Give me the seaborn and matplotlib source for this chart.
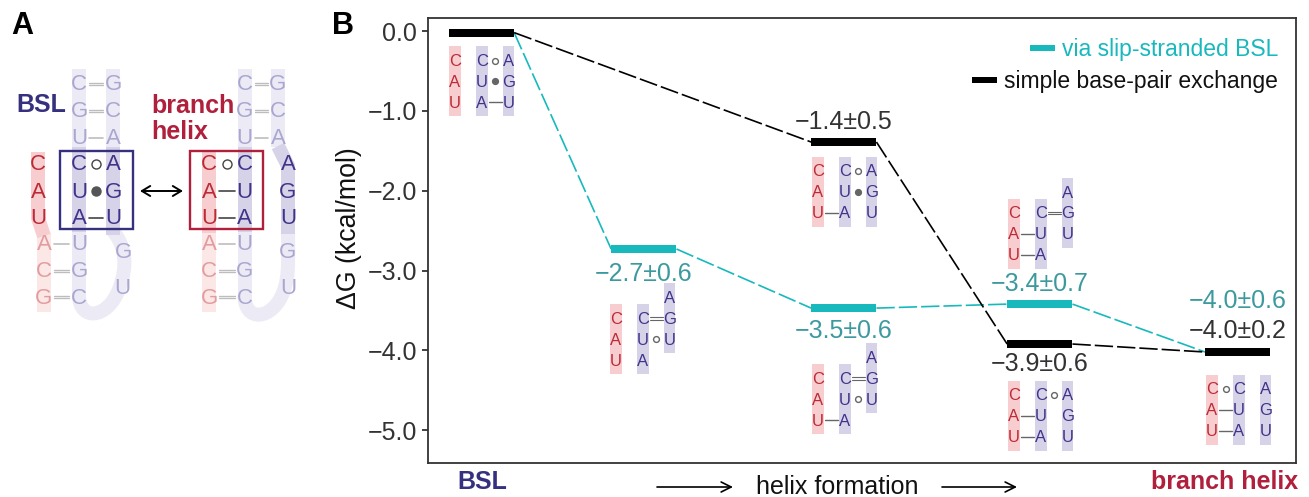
from matplotlib import pyplot as plt
from matplotlib.lines import Line2D
from matplotlib.patches import PathPatch, Rectangle
from matplotlib.path import Path
import pandas as pd
import seaborn as sns

sns.set_theme(style='ticks')
plt.rcParams['font.family'] = ['Liberation Sans', 'DejaVu Sans']

# Free energy of each stage along helix formation
stages = [0.0, 0.82, 1.83, 2.82, 3.82]
slip_stages = [0, 1, 2, 3, 4]
slip_dG = [-0.02, -2.73, -3.47, -3.42, -4.02]
exchange_stages = [0, 2, 3, 4]
exchange_dG = [-0.02, -1.39, -3.92, -4.02]
yticks = [0.0, -1.0, -2.0, -3.0, -4.0, -5.0]
slip_labels = ['-2.7±0.6', '-3.5±0.6', '-3.4±0.7', '-4.0±0.6']
exchange_labels = ['-1.4±0.5', '-3.9±0.6', '-4.0±0.2']
series_names = ['via slip-stranded BSL', 'simple base-pair exchange']

CYAN = '#17b9bd'
TEAL = '#3c9a9f'
DARK = '#333333'
NAVY = '#35317f'
CRIMSON = '#b01f3c'
RED_TXT = '#bb2b36'
BLUE_TXT = '#3f3489'
RED_BAND, RED_PALE = '#f8cdd0', '#fce7e7'
BLUE_BAND, BLUE_PALE = '#d6d3e8', '#ecebf5'
RED_FADE, BLUE_FADE = '#e29c9f', '#a9a6d0'
BAR_HW = 0.165
PX = 0.72  # points per pixel


# One dashed connector per pair of neighbouring levels
def connectors(ax, idx, dG, color):
  rows = []
  for n in range(len(idx) - 1):
    rows.append(dict(seg=n, x=stages[idx[n]] + BAR_HW, y=dG[n]))
    rows.append(dict(seg=n, x=stages[idx[n + 1]] - BAR_HW, y=dG[n + 1]))
  sns.lineplot(data=pd.DataFrame(rows), x='x', y='y', units='seg', estimator=None, color=color,
               lw=1.2, linestyle=(0, (11, 2.4)), ax=ax, zorder=2)


# Thick horizontal level for each stage
def levels(ax, idx, dG, color):
  rows = []
  for n, (i, g) in enumerate(zip(idx, dG)):
    rows.append(dict(seg=n, x=stages[i] - BAR_HW, y=g))
    rows.append(dict(seg=n, x=stages[i] + BAR_HW, y=g))
  sns.lineplot(data=pd.DataFrame(rows), x='x', y='y', units='seg', estimator=None, color=color,
               lw=8 * PX, solid_capstyle='butt', ax=ax, zorder=3)


def band(ax, x, y0, y1, color, w=11.5):
  ax.add_patch(Rectangle((x - w / 2, y0), w, y1 - y0, fc=color, ec='none', zorder=1))


def letters(ax, x, y0, seq, color, size, dy):
  for i, s in enumerate(seq):
    ax.text(x, y0 + i * dy + 1, s, color=color, fontsize=size, ha='center', va='center', zorder=4)


# Base pair glyph between two letters at height y
def pair(ax, x0, x1, y, kind, gap=7, color='#666666', lw=1.0, ms=5):
  mid = (x0 + x1) / 2
  if kind == '-':
    ax.plot([x0 + gap, x1 - gap], [y, y], color=color, lw=lw, zorder=3)
  elif kind == '=':
    for off in (-1.3, 1.3):
      ax.plot([x0 + gap, x1 - gap], [y + off, y + off], color=color, lw=lw * 0.8, zorder=3)
  elif kind == 'o':
    ax.plot([mid], [y], 'o', mfc='white', mec=color, mew=1, ms=ms, zorder=3)
  else:
    ax.plot([mid], [y], 'o', mfc=color, mec=color, ms=ms, zorder=3)


# Small helix sketch below a level: red strand, blue strand, shifted blue strand
def mini(ax, x, y0, shift, seq, pairs):
  cols = [x, x + 27, x + 53.5]
  tops = [y0, y0, y0 - shift]
  dy = 20.8
  for c, top, s, fill, txt in zip(cols, tops, seq, [RED_BAND, BLUE_BAND, BLUE_BAND],
                                  [RED_TXT, BLUE_TXT, BLUE_TXT]):
    band(ax, c, top - 14.5, top + 55.5, fill)
    letters(ax, c, top, s, txt, 12, dy)
  for a, b, row, kind in pairs:
    pair(ax, cols[a], cols[b], y0 + row * dy, kind, ms=4.2)


def stroke(ax, verts, codes, color, lw=14):
  ax.add_patch(PathPatch(Path(verts, codes), fc='none', ec=color, lw=lw * PX, capstyle='butt', zorder=1))


fig = plt.figure(figsize=(13.09, 4.97), dpi=100)
ax = fig.add_axes([428 / 1309, 1 - 463 / 497, 868 / 1309, 445 / 497])

connectors(ax, slip_stages, slip_dG, CYAN)
connectors(ax, exchange_stages, exchange_dG, 'black')
levels(ax, slip_stages[1:4], slip_dG[1:4], CYAN)
levels(ax, exchange_stages, exchange_dG, 'black')

ax.set_xlim(-0.27, 4.114)
ax.set_ylim(-5.41, 0.163)
ax.set_xticks([])
ax.set_yticks(yticks)
ax.set_yticklabels([f'{t:.1f}'.replace('-', '\u2212') for t in yticks], fontsize=18, color=DARK)
ax.tick_params(axis='y', length=4.3, width=1.3, color=DARK, pad=3.5)
for s in ax.spines.values():
  s.set_linewidth(1.3)
  s.set_color(DARK)
ax.set_xlabel('')
ax.set_ylabel('\u0394G (kcal/mol)', fontsize=19.3, color='#111111')
ax.yaxis.set_label_coords(-0.076, 0.528)

# Energy labels
slip_pos = [(0.82, 274), (1.83, 331), (2.82, 284), (3.82, 301)]
for (sx, py), lab in zip(slip_pos, slip_labels):
  ax.annotate(lab.replace('-', '\u2212'), (sx, 0), xycoords=('data', 'axes fraction'),
              xytext=(0, (463 - py) * PX), textcoords='offset points',
              ha='center', va='center', fontsize=18, color=TEAL)
exch_pos = [(1.83, 122), (2.82, 364), (3.82, 331)]
for (sx, py), lab in zip(exch_pos, exchange_labels):
  ax.annotate(lab.replace('-', '\u2212'), (sx, 0), xycoords=('data', 'axes fraction'),
              xytext=(0, (463 - py) * PX), textcoords='offset points',
              ha='center', va='center', fontsize=18, color=DARK)

# Legend, right aligned like the figure
handles = [Line2D([], [], color=CYAN, lw=6 * PX, solid_capstyle='butt'),
           Line2D([], [], color='black', lw=6 * PX, solid_capstyle='butt')]
leg = ax.legend(handles, series_names, loc='upper right', frameon=False, fontsize=16.5,
                labelcolor=[CYAN, '#111111'], handlelength=1.1, handletextpad=0.3,
                labelspacing=0.38, bbox_to_anchor=(0.9795, 0.955), borderaxespad=0, borderpad=0)
leg._legend_handle_box.get_children()[0].align = 'right'

# Overlay in picture pixels for the sketches and free labels
ov = fig.add_axes([0, 0, 1, 1], zorder=5)
ov.set_xlim(0, 1309)
ov.set_ylim(497, 0)
ov.axis('off')
ov.patch.set_alpha(0)

mini(ov, 455, 60.5, 0, ['CAU', 'CUA', 'AGU'], [(1, 2, 0, 'o'), (1, 2, 1, '.'), (1, 2, 2, '-')])
mini(ov, 616, 318.5, 20.8, ['CAU', 'CUA', 'AGU'], [(1, 2, 0, '='), (1, 2, 1, 'o')])
mini(ov, 818, 171, 0, ['CAU', 'CUA', 'AGU'], [(1, 2, 0, 'o'), (1, 2, 1, '.'), (0, 1, 2, '-')])
mini(ov, 818, 378.5, 20.8, ['CAU', 'CUA', 'AGU'], [(1, 2, 0, '='), (1, 2, 1, 'o'), (0, 1, 2, '-')])
mini(ov, 1014, 213, 20.8, ['CAU', 'CUA', 'AGU'], [(1, 2, 0, '='), (0, 1, 1, '-'), (0, 1, 2, '-')])
mini(ov, 1014, 395, 0, ['CAU', 'CUA', 'AGU'], [(1, 2, 0, 'o'), (0, 1, 1, '-'), (0, 1, 2, '-')])
mini(ov, 1212, 389, 0, ['CAU', 'CUA', 'AGU'], [(0, 1, 0, 'o'), (0, 1, 1, '-'), (0, 1, 2, '-')])

ov.text(11, 26, 'A', fontsize=22, fontweight='bold', color='black', va='center')
ov.text(332, 26, 'B', fontsize=22, fontweight='bold', color='black', va='center')
ov.text(482, 482, 'BSL', fontsize=18, fontweight='bold', color=NAVY, ha='center', va='center')
ov.text(1298, 482, 'branch helix', fontsize=18, fontweight='bold', color=CRIMSON, ha='right', va='center')
ov.text(837, 487.5, 'helix formation', fontsize=18, color='#111111', ha='center', va='center')
for x0, x1 in [(657, 733), (942, 1017)]:
  ov.annotate('', xy=(x1, 487), xytext=(x0, 487),
              arrowprops=dict(arrowstyle='->,head_width=0.3,head_length=0.6', color='black', lw=1.2,
                              shrinkA=0, shrinkB=0))

# Panel A: pale strands, dark core, then letters
rows = [84, 111, 137.5, 164, 191, 218, 244, 271, 297]
CV = [Path.MOVETO, Path.CURVE4, Path.CURVE4, Path.CURVE4, Path.CURVE4, Path.CURVE4, Path.CURVE4]

# BSL side
stroke(ov, [(79, 295), (79, 323), (112, 320), (122, 280), (128, 258), (122, 242), (113, 231)], CV, BLUE_PALE)
band(ov, 79, 69, 147, BLUE_PALE, 14)
band(ov, 79, 232, 300, BLUE_PALE, 14)
band(ov, 113, 69, 147, BLUE_PALE, 14)
band(ov, 79, 147, 232, BLUE_BAND, 14)
band(ov, 113, 147, 235, BLUE_BAND, 14)
band(ov, 44, 233, 312, RED_PALE, 14)
stroke(ov, [(38, 152), (38, 218), (44, 236)], [Path.MOVETO, Path.LINETO, Path.LINETO], RED_BAND)
letters(ov, 79, rows[0], 'CGU', BLUE_FADE, 16, 26.75)
letters(ov, 113, rows[0], 'GCA', BLUE_FADE, 16, 26.75)
letters(ov, 79, rows[3], 'CUA', BLUE_TXT, 16, 27)
letters(ov, 113, rows[3], 'AGU', BLUE_TXT, 16, 27)
letters(ov, 79, rows[6], 'UGC', BLUE_FADE, 16, 26.5)
letters(ov, 38, rows[3], 'CAU', RED_TXT, 16, 27)
letters(ov, 44, rows[6], 'ACG', RED_FADE, 16, 26.5)
letters(ov, 123, 252, 'G', BLUE_FADE, 16, 0)
letters(ov, 122, 287, 'U', BLUE_FADE, 16, 0)

# Branch helix side
stroke(ov, [(244.5, 295), (244.5, 323), (272, 320), (283, 293), (290, 275), (288, 255), (288, 233)], CV, BLUE_PALE)
band(ov, 244.5, 69, 147, BLUE_PALE, 14)
band(ov, 244.5, 232, 300, BLUE_PALE, 14)
band(ov, 278, 69, 147, BLUE_PALE, 14)
band(ov, 244.5, 147, 232, BLUE_BAND, 14)
stroke(ov, [(278, 146), (288, 166), (288, 234)], [Path.MOVETO, Path.LINETO, Path.LINETO], BLUE_BAND)
band(ov, 209, 233, 312, RED_PALE, 14)
band(ov, 209, 152, 233, RED_BAND, 14)
letters(ov, 244.5, rows[0], 'CGU', BLUE_FADE, 16, 26.75)
letters(ov, 278, rows[0], 'GCA', BLUE_FADE, 16, 26.75)
letters(ov, 244.5, rows[3], 'CUA', BLUE_TXT, 16, 27)
letters(ov, 288, rows[3], 'AGU', BLUE_TXT, 16, 27)
letters(ov, 244.5, rows[6], 'UGC', BLUE_FADE, 16, 26.5)
letters(ov, 209, rows[3], 'CAU', RED_TXT, 16, 27)
letters(ov, 209, rows[6], 'ACG', RED_FADE, 16, 26.5)
letters(ov, 288, 252, 'G', BLUE_FADE, 16, 0)
letters(ov, 288, 287, 'U', BLUE_FADE, 16, 0)

# Base pairs of panel A
faded = dict(color='#bdbdbd', lw=1.2, gap=10)
solid = dict(color='#444444', lw=1.2, gap=10)
for r, k in [(0, '='), (1, '='), (2, '-')]:
  pair(ov, 79, 113, rows[r], k, **faded)
  pair(ov, 244.5, 278, rows[r], k, **faded)
for r, k in [(6, '-'), (7, '='), (8, '=')]:
  pair(ov, 44, 79, rows[r], k, **faded)
  pair(ov, 209, 244.5, rows[r], k, **faded)
pair(ov, 79, 113, rows[3], 'o', ms=6.5, color='#444444')
pair(ov, 79, 113, rows[4], '.', ms=6.5, color='#555555')
pair(ov, 79, 113, rows[5], '-', **solid)
pair(ov, 209, 244.5, rows[3], 'o', ms=6.5, color='#444444')
pair(ov, 209, 244.5, rows[4], '-', **solid)
pair(ov, 209, 244.5, rows[5], '-', **solid)

# Boxes and exchange arrow
ov.add_patch(Rectangle((60, 151), 73, 78, fc='none', ec=NAVY, lw=1.7, zorder=5))
ov.add_patch(Rectangle((190, 151), 73, 78, fc='none', ec=CRIMSON, lw=1.7, zorder=5))
ov.annotate('', xy=(183, 191), xytext=(140, 191),
            arrowprops=dict(arrowstyle='<->,head_width=0.3,head_length=0.5', color='black', lw=1.4,
                            shrinkA=0, shrinkB=0))
ov.text(16, 105, 'BSL', fontsize=18, fontweight='bold', color=NAVY, va='center')
ov.text(151, 106, 'branch', fontsize=18, fontweight='bold', color=CRIMSON, va='center')
ov.text(151, 132, 'helix', fontsize=18, fontweight='bold', color=CRIMSON, va='center')

fig.savefig('out.png', dpi=100)
plt.close()
